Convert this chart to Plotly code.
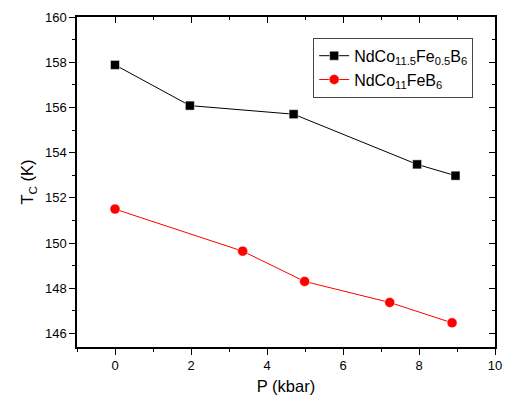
import plotly.graph_objects as go

p_a = [0.0, 1.97, 4.70, 7.95, 8.96]
tc_a = [157.88, 156.08, 155.70, 153.48, 152.98]
p_b = [0.0, 3.36, 4.99, 7.23, 8.87]
tc_b = [151.50, 149.64, 148.30, 147.37, 146.47]
name_a = "NdCo<sub>11.5</sub>Fe<sub>0.5</sub>B<sub>6</sub>"
name_b = "NdCo<sub>11</sub>FeB<sub>6</sub>"

FONT = "Liberation Sans, Arial, sans-serif"

fig = go.Figure()
fig.add_trace(go.Scatter(x=p_a, y=tc_a, mode="lines+markers", name=name_a,
                         line=dict(color="black", width=1),
                         marker=dict(symbol="square", size=9, color="black",
                                     line=dict(color="white", width=0.5))))
fig.add_trace(go.Scatter(x=p_b, y=tc_b, mode="lines+markers", name=name_b,
                         line=dict(color="red", width=1),
                         marker=dict(symbol="circle", size=10, color="red",
                                     line=dict(color="white", width=0.5))))

axis_common = dict(showline=True, linecolor="black", linewidth=1.5, showgrid=False,
                   zeroline=False, tickcolor="black", ticklen=6, tickwidth=1.2,
                   automargin=False,
                   tickfont=dict(family=FONT, size=13, color="black"))

fig.update_layout(
    width=505, height=410,
    margin=dict(l=77, r=10, t=17, b=63),
    plot_bgcolor="white", paper_bgcolor="white",
    font=dict(family=FONT, color="black"),
    xaxis=dict(range=[-1, 10], dtick=2, tick0=0, ticks="outside",
               minor=dict(dtick=1, ticks="outside", ticklen=3, tickcolor="black"),
               title=dict(text="P (kbar)", font=dict(family=FONT, size=16.5), standoff=8),
               **axis_common),
    yaxis=dict(range=[145.4, 160], dtick=2, tick0=146, ticks="outside",
               minor=dict(dtick=1, ticks="outside", ticklen=3, tickcolor="black"),
               title=dict(text="T<sub>C</sub> (K)", font=dict(family=FONT, size=16.5), standoff=7),
               **axis_common),
    xaxis2=dict(range=[-1, 10], dtick=2, tick0=0, ticks="inside", overlaying="x",
                side="top", showticklabels=False,
                minor=dict(dtick=1, ticks="inside", ticklen=3, tickcolor="black"),
                **axis_common),
    yaxis2=dict(range=[145.4, 160], dtick=2, tick0=146, ticks="inside", overlaying="y",
                side="right", showticklabels=False,
                minor=dict(dtick=1, ticks="inside", ticklen=3, tickcolor="black"),
                **axis_common),
    legend=dict(x=0.565, y=0.937, xanchor="left", yanchor="top",
                bordercolor="#444444", borderwidth=1, bgcolor="white",
                font=dict(family=FONT, size=16, color="black"),
                tracegroupgap=0, itemwidth=30),
    showlegend=True,
)
fig.add_trace(go.Scatter(x=[None], y=[None], xaxis="x2", yaxis="y2", showlegend=False,
                         hoverinfo="skip"))

fig.write_html("out.html", config={"displayModeBar": False},
               post_script="document.body.style.margin='0';document.body.style.overflow='hidden';")
